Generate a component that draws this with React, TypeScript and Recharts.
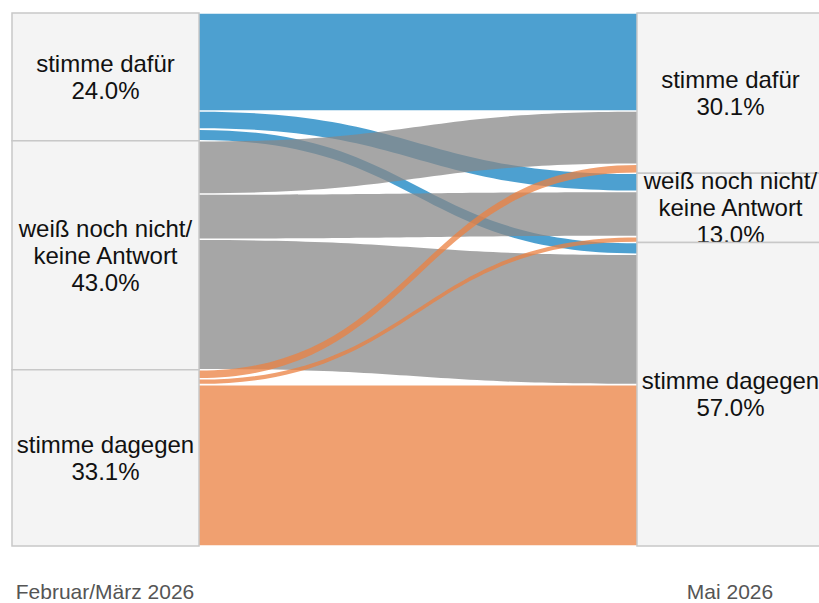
import React from 'react';
import { Sankey } from 'recharts';

// answer categories and survey waves
const categories = ['stimme dafür', 'weiß noch nicht/ keine Antwort', 'stimme dagegen'];
const categoryLines = [['stimme dafür'], ['weiß noch nicht/', 'keine Antwort'], ['stimme dagegen']];
const periods = ['Februar/März 2026', 'Mai 2026'];

// shares per wave (%)
const shareFeb = [24.0, 43.0, 33.1];
const shareMay = [30.1, 13.0, 57.0];

// flows Feb/März -> Mai (%), in target order dafür / weiß / dagegen
const flowFromDafuer = [18.4, 3.4, 2.2];
const flowFromWeiss = [10.0, 8.5, 24.5];
const flowFromDagegen = [1.7, 1.1, 30.3];

const flowColors = ['#1280c0', '#888888', '#eb8040'];

const FONT = '"Liberation Sans", Arial, sans-serif';

const nodes = [
  ...categories.map((name) => ({ name, period: 0 })),
  ...categories.map((name) => ({ name, period: 1 })),
];

const links: { source: number; target: number; value: number }[] = [];
[flowFromDafuer, flowFromWeiss, flowFromDagegen].forEach((row, i) => {
  row.forEach((value, j) => {
    links.push({ source: i, target: categories.length + j, value });
  });
});

const FlowNode = (props: any) => {
  const { x, y, width, height, index } = props;
  const col = index < categories.length ? 0 : 1;
  const cat = index % categories.length;
  const share = (col === 0 ? shareFeb : shareMay)[cat];
  const lines = [...categoryLines[cat], `${share.toFixed(1)}%`];
  const cx = x + width / 2;
  const cy = y + height / 2;
  return (
    <g>
      <rect x={x} y={y} width={width} height={height} fill="#f4f4f4" stroke="#c8c8c8" strokeWidth={1.5} />
      {lines.map((line, k) => (
        <text
          key={k}
          x={cx}
          y={cy + (k - (lines.length - 1) / 2) * 27 + 8.5}
          textAnchor="middle"
          fontSize={24}
          fontFamily={FONT}
          fill="#111"
        >
          {line}
        </text>
      ))}
    </g>
  );
};

const FlowLink = (props: any) => {
  const { sourceX, targetX, sourceY, targetY, sourceControlX, targetControlX, linkWidth, index } = props;
  const h = Math.max(linkWidth / 2 - 0.8, 0.5);
  const color = flowColors[links[index].source];
  const d =
    `M${sourceX},${sourceY - h} C${sourceControlX},${sourceY - h} ${targetControlX},${targetY - h} ${targetX},${targetY - h} ` +
    `L${targetX},${targetY + h} C${targetControlX},${targetY + h} ${sourceControlX},${sourceY + h} ${sourceX},${sourceY + h} Z`;
  return <path d={d} fill={color} fillOpacity={0.75} stroke="none" />;
};

export default function App() {
  return (
    <div style={{ position: 'absolute', left: 0, top: 0, width: 819, height: 603, overflow: 'hidden', fontFamily: FONT }}>
      <Sankey
        width={824}
        height={548}
        data={{ nodes, links }}
        nodeWidth={187}
        nodePadding={0}
        iterations={0}
        linkCurvature={0.5}
        margin={{ top: 13, right: 0, bottom: 2, left: 12 }}
        node={<FlowNode />}
        link={<FlowLink />}
      />
      <svg width={819} height={603} style={{ position: 'absolute', left: 0, top: 0, pointerEvents: 'none' }}>
        <text x={105} y={599} textAnchor="middle" fontSize={21} fontFamily={FONT} fill="#555">
          {periods[0]}
        </text>
        <text x={730} y={599} textAnchor="middle" fontSize={21} fontFamily={FONT} fill="#555">
          {periods[1]}
        </text>
      </svg>
    </div>
  );
}
